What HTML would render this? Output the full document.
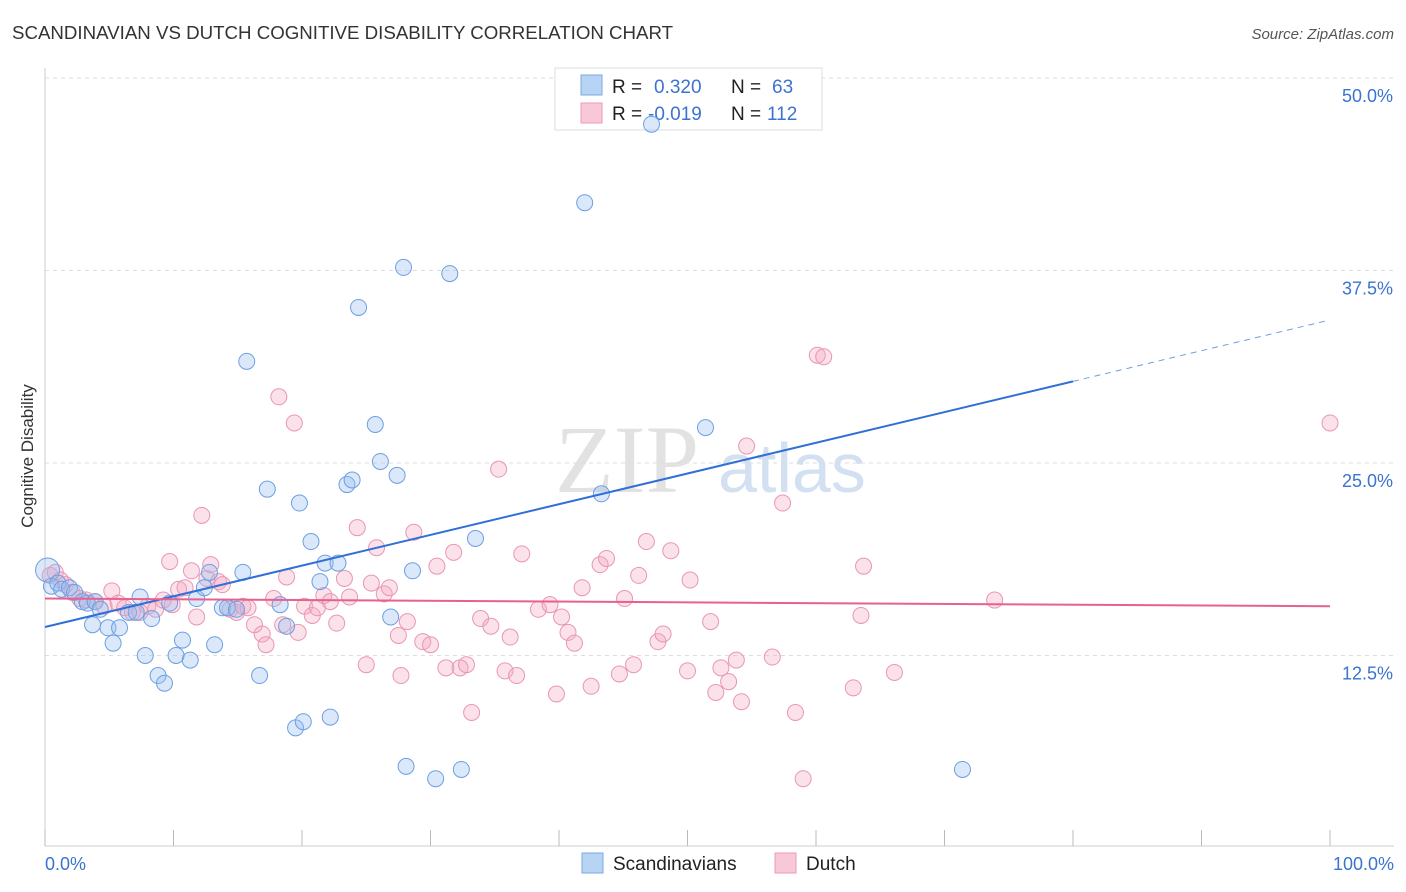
<!DOCTYPE html>
<html><head><meta charset="utf-8">
<style>
body{margin:0;background:#fff;font-family:"Liberation Sans",sans-serif;}
svg{display:block}
</style></head><body>
<svg id="chart" width="1406" height="892">
<text x="12" y="39" font-size="18.7" fill="#333">SCANDINAVIAN VS DUTCH COGNITIVE DISABILITY CORRELATION CHART</text>
<text x="1394" y="39" font-size="15" fill="#555" font-style="italic" text-anchor="end">Source: ZipAtlas.com</text>
<text x="33" y="456" font-size="17" fill="#333" text-anchor="middle" transform="rotate(-90 33 456)">Cognitive Disability</text>
<text x="555" y="492" font-size="96" fill="#e2e2e2" font-family="Liberation Serif,serif">ZIP</text>
<text x="718" y="492" font-size="70" fill="#d2e0f2">atlas</text>
<g id="grid"></g>
<g>
<rect x="555" y="68" width="267" height="62" fill="#fff" stroke="#ddd"/>
<rect x="581" y="75" width="21" height="20" fill="#b8d4f4" stroke="#7aaae6"/>
<rect x="581" y="103" width="21" height="20" fill="#f9c8d8" stroke="#ec9ab6"/>
<text x="612" y="93" font-size="19" fill="#222">R = <tspan x="654" fill="#3b73d0">0.320</tspan><tspan x="731" fill="#222">N = </tspan><tspan x="772" fill="#3b73d0">63</tspan></text>
<text x="612" y="120" font-size="19" fill="#222">R = <tspan x="648" fill="#3b73d0">-0.019</tspan><tspan x="731" fill="#222">N = </tspan><tspan x="767" fill="#3b73d0">112</tspan></text>
</g>
<g id="marks"></g>
<g>
<rect x="582" y="853" width="21" height="20" fill="#b8d4f4" stroke="#7aaae6"/>
<text x="613" y="870" font-size="19" fill="#222">Scandinavians</text>
<rect x="775" y="853" width="21" height="20" fill="#f9c8d8" stroke="#ec9ab6"/>
<text x="806" y="870" font-size="19" fill="#222">Dutch</text>
</g>
</svg>
<script>
const yTicks=[12.5,25.0,37.5,50.0];
const xTickLabels=["0.0%","100.0%"];
const blueX=[0.2,0.5,1.0,1.3,1.9,2.3,2.9,3.3,3.9,4.3,3.7,4.9,5.3,5.8,6.5,7.1,7.4,7.8,8.3,8.8,9.3,9.7,10.2,10.7,11.3,11.8,12.4,12.8,13.2,13.8,14.2,14.9,15.4,15.7,16.7,17.3,18.3,18.8,19.5,19.8,20.1,20.7,21.4,21.8,22.2,22.8,23.5,23.9,24.4,25.7,26.1,26.9,27.4,27.9,28.1,28.6,30.4,31.5,32.4,33.5,42.0,43.3,47.2,51.4,71.4];
const blueY=[18.05,17.0,17.2,16.8,16.9,16.6,16.0,15.9,16.0,15.5,14.5,14.3,13.3,14.3,15.3,15.3,16.3,12.5,14.9,11.2,10.7,15.9,12.5,13.5,12.2,16.2,16.9,17.9,13.2,15.6,15.6,15.5,17.9,31.6,11.2,23.3,15.8,14.4,7.8,22.4,8.2,19.9,17.3,18.5,8.5,18.5,23.6,23.9,35.1,27.5,25.1,15.0,24.2,37.7,5.3,18.0,4.5,37.3,5.1,20.1,41.9,23.0,47.0,27.3,5.1];
const pinkX=[0.4,0.8,1.2,1.6,2.1,2.7,3.2,3.9,4.6,5.2,5.7,6.2,6.8,7.4,8.0,8.6,9.2,9.7,9.9,10.4,10.9,11.4,11.8,12.2,12.6,12.9,13.5,13.8,14.4,14.9,15.4,15.8,16.3,16.9,17.2,17.8,18.2,18.5,18.8,19.4,19.7,20.2,20.8,21.2,21.7,22.2,22.7,23.3,23.7,24.3,25.0,25.8,25.4,26.4,26.8,27.5,27.7,28.2,28.7,29.4,30.0,30.5,31.2,31.8,32.3,32.8,33.2,33.9,34.7,35.3,35.8,36.2,36.7,37.1,38.4,39.3,39.8,40.2,40.7,41.2,41.8,42.5,43.2,43.7,44.7,45.1,45.8,46.2,46.8,47.7,48.1,48.7,50.0,50.2,51.8,52.2,52.6,53.2,53.8,54.2,54.6,56.6,57.4,58.4,59.0,60.1,60.6,62.9,63.5,63.7,66.1,73.9,100.0];
const pinkY=[17.7,17.9,17.4,17.1,16.6,16.2,16.1,16.0,15.7,16.7,15.9,15.6,15.3,15.3,15.7,15.5,16.1,18.6,15.8,16.8,16.9,18.0,15.0,21.6,17.5,18.4,17.3,17.1,15.5,15.3,15.7,15.6,14.5,13.9,13.2,16.2,29.3,14.5,17.6,27.6,14.0,15.7,15.1,15.6,16.4,16.0,14.6,17.5,16.3,20.8,11.9,19.5,17.2,16.5,16.9,13.8,11.2,14.7,20.5,13.4,13.2,18.3,11.7,19.2,11.7,11.9,8.8,14.9,14.4,24.6,11.5,13.7,11.2,19.1,15.5,15.8,10.0,15.0,14.0,13.3,16.9,10.5,18.4,18.8,11.3,16.2,11.9,17.7,19.9,13.4,13.9,19.3,11.5,17.4,14.7,10.1,11.7,10.8,12.2,9.5,26.1,12.4,22.4,8.8,4.5,32.0,31.9,10.4,15.1,18.3,11.4,16.1,27.6];
const blueTrend=[14.35,30.3]; // at x=0, x=80
const pinkTrend=[16.2,15.7];  // at x=0, x=100

const NS="http://www.w3.org/2000/svg";
const sx=v=>45+v*12.85;
const sy=v=>848-v*15.4;
function mk(tag,attrs,parent){const e=document.createElementNS(NS,tag);for(const k in attrs)e.setAttribute(k,attrs[k]);parent.appendChild(e);return e;}
const grid=document.getElementById('grid'),marks=document.getElementById('marks');
mk('line',{x1:45,y1:68,x2:45,y2:846,stroke:'#ccc'},grid);
mk('line',{x1:45,y1:846,x2:1394,y2:846,stroke:'#ccc'},grid);
for(let i=0;i<=10;i++){
  const l=mk('line',{x1:sx(i*10),y1:830,x2:sx(i*10),y2:846,stroke:'#bbb'},grid);
  
  
}
yTicks.forEach(t=>{
  const l=mk('line',{x1:45,y1:sy(t),x2:1394,y2:sy(t),stroke:'#ddd','stroke-dasharray':'4,4'},grid);
  
  
  const tx=mk('text',{x:1393,y:sy(t)+24,'font-size':18,fill:'#3b73d0','text-anchor':'end'},grid);
  tx.textContent=t.toFixed(1)+'%';
  
  
});
const xl0=mk('text',{x:45,y:870,'font-size':18,fill:'#3b73d0'},grid);xl0.textContent=xTickLabels[0];


const xl1=mk('text',{x:1394,y:870,'font-size':18,fill:'#3b73d0','text-anchor':'end'},grid);xl1.textContent=xTickLabels[1];



pinkX.forEach((x,i)=>{
  const c=mk('circle',{cx:sx(x),cy:sy(pinkY[i]),r:8,fill:'rgba(244,170,196,0.35)',stroke:'#ea96b2','stroke-width':1},marks);
  
  
});
blueX.forEach((x,i)=>{
  const c=mk('circle',{cx:sx(x),cy:sy(blueY[i]),r:i===0?12:8,fill:'rgba(150,190,240,0.35)',stroke:'#6d9fe2','stroke-width':1},marks);
  
  
});
const slope=(blueTrend[1]-blueTrend[0])/80;
const bl=mk('line',{x1:sx(0),y1:sy(blueTrend[0]),x2:sx(80),y2:sy(blueTrend[1]),stroke:'#2f6fd6','stroke-width':2},marks);


const bd=mk('line',{x1:sx(80),y1:sy(blueTrend[1]),x2:sx(100),y2:sy(blueTrend[0]+slope*100),stroke:'#6d9fe2','stroke-width':1,'stroke-dasharray':'6,5'},marks);


const pl=mk('line',{x1:sx(0),y1:sy(pinkTrend[0]),x2:sx(100),y2:sy(pinkTrend[1]),stroke:'#e8608e','stroke-width':2},marks);


</script>
</body></html>
